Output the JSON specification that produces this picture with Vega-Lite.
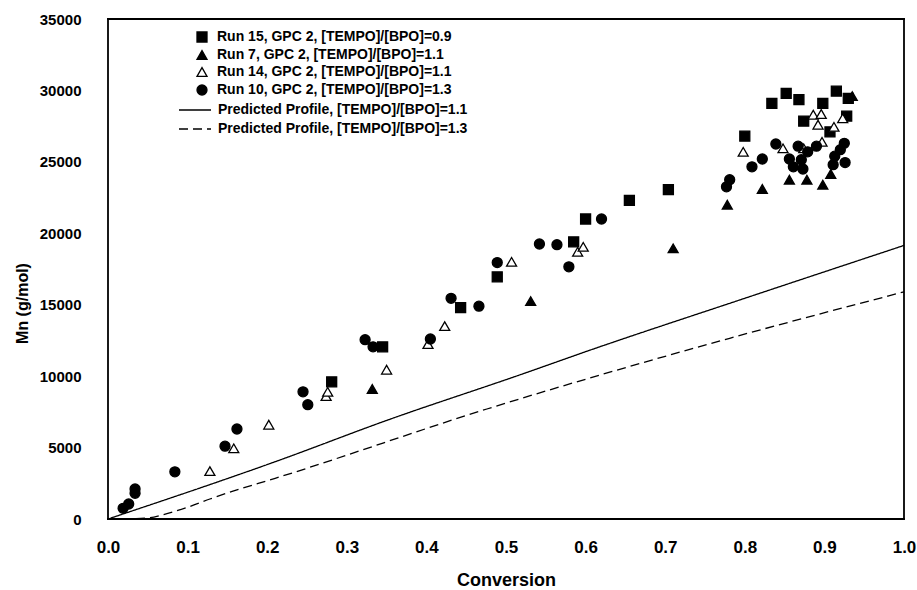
{
  "$schema": "https://vega.github.io/schema/vega-lite/v6.json",
  "width": 796,
  "height": 500,
  "autosize": {"type": "none"},
  "padding": {"left": 108, "top": 19, "right": 13, "bottom": 71},
  "background": "white",
  "config": {
    "font": "Liberation Sans",
    "view": {"stroke": null},
    "axis": {
      "grid": false,
      "ticks": false,
      "domain": false,
      "labelFlush": false,
      "labelFont": "Liberation Sans",
      "labelFontWeight": "bold",
      "labelColor": "black",
      "titleFont": "Liberation Sans",
      "titleFontWeight": "bold",
      "titleColor": "black"
    }
  },
  "datasets": {
    "points": [
      {"run": "Run 15, GPC 2, [TEMPO]/[BPO]=0.9", "conv": 0.281, "mn": 9600},
      {"run": "Run 15, GPC 2, [TEMPO]/[BPO]=0.9", "conv": 0.345, "mn": 12050},
      {"run": "Run 15, GPC 2, [TEMPO]/[BPO]=0.9", "conv": 0.443, "mn": 14800},
      {"run": "Run 15, GPC 2, [TEMPO]/[BPO]=0.9", "conv": 0.489, "mn": 16950},
      {"run": "Run 15, GPC 2, [TEMPO]/[BPO]=0.9", "conv": 0.585, "mn": 19400},
      {"run": "Run 15, GPC 2, [TEMPO]/[BPO]=0.9", "conv": 0.600, "mn": 21000},
      {"run": "Run 15, GPC 2, [TEMPO]/[BPO]=0.9", "conv": 0.655, "mn": 22300},
      {"run": "Run 15, GPC 2, [TEMPO]/[BPO]=0.9", "conv": 0.704, "mn": 23050},
      {"run": "Run 15, GPC 2, [TEMPO]/[BPO]=0.9", "conv": 0.800, "mn": 26800},
      {"run": "Run 15, GPC 2, [TEMPO]/[BPO]=0.9", "conv": 0.834, "mn": 29100},
      {"run": "Run 15, GPC 2, [TEMPO]/[BPO]=0.9", "conv": 0.852, "mn": 29800},
      {"run": "Run 15, GPC 2, [TEMPO]/[BPO]=0.9", "conv": 0.868, "mn": 29350},
      {"run": "Run 15, GPC 2, [TEMPO]/[BPO]=0.9", "conv": 0.874, "mn": 27850},
      {"run": "Run 15, GPC 2, [TEMPO]/[BPO]=0.9", "conv": 0.898, "mn": 29100},
      {"run": "Run 15, GPC 2, [TEMPO]/[BPO]=0.9", "conv": 0.907, "mn": 27100},
      {"run": "Run 15, GPC 2, [TEMPO]/[BPO]=0.9", "conv": 0.915, "mn": 29950},
      {"run": "Run 15, GPC 2, [TEMPO]/[BPO]=0.9", "conv": 0.928, "mn": 28200},
      {"run": "Run 15, GPC 2, [TEMPO]/[BPO]=0.9", "conv": 0.930, "mn": 29450},
      {"run": "Run 7, GPC 2, [TEMPO]/[BPO]=1.1", "conv": 0.332, "mn": 9100},
      {"run": "Run 7, GPC 2, [TEMPO]/[BPO]=1.1", "conv": 0.531, "mn": 15250},
      {"run": "Run 7, GPC 2, [TEMPO]/[BPO]=1.1", "conv": 0.710, "mn": 18950},
      {"run": "Run 7, GPC 2, [TEMPO]/[BPO]=1.1", "conv": 0.778, "mn": 22000},
      {"run": "Run 7, GPC 2, [TEMPO]/[BPO]=1.1", "conv": 0.822, "mn": 23100},
      {"run": "Run 7, GPC 2, [TEMPO]/[BPO]=1.1", "conv": 0.856, "mn": 23750},
      {"run": "Run 7, GPC 2, [TEMPO]/[BPO]=1.1", "conv": 0.878, "mn": 23750},
      {"run": "Run 7, GPC 2, [TEMPO]/[BPO]=1.1", "conv": 0.898, "mn": 23400},
      {"run": "Run 7, GPC 2, [TEMPO]/[BPO]=1.1", "conv": 0.908, "mn": 24150},
      {"run": "Run 7, GPC 2, [TEMPO]/[BPO]=1.1", "conv": 0.935, "mn": 29600},
      {"run": "Run 14, GPC 2, [TEMPO]/[BPO]=1.1", "conv": 0.128, "mn": 3350},
      {"run": "Run 14, GPC 2, [TEMPO]/[BPO]=1.1", "conv": 0.158, "mn": 4950},
      {"run": "Run 14, GPC 2, [TEMPO]/[BPO]=1.1", "conv": 0.202, "mn": 6600},
      {"run": "Run 14, GPC 2, [TEMPO]/[BPO]=1.1", "conv": 0.274, "mn": 8600},
      {"run": "Run 14, GPC 2, [TEMPO]/[BPO]=1.1", "conv": 0.276, "mn": 8900},
      {"run": "Run 14, GPC 2, [TEMPO]/[BPO]=1.1", "conv": 0.350, "mn": 10450},
      {"run": "Run 14, GPC 2, [TEMPO]/[BPO]=1.1", "conv": 0.402, "mn": 12250},
      {"run": "Run 14, GPC 2, [TEMPO]/[BPO]=1.1", "conv": 0.423, "mn": 13500},
      {"run": "Run 14, GPC 2, [TEMPO]/[BPO]=1.1", "conv": 0.507, "mn": 18000},
      {"run": "Run 14, GPC 2, [TEMPO]/[BPO]=1.1", "conv": 0.590, "mn": 18700},
      {"run": "Run 14, GPC 2, [TEMPO]/[BPO]=1.1", "conv": 0.597, "mn": 19050},
      {"run": "Run 14, GPC 2, [TEMPO]/[BPO]=1.1", "conv": 0.798, "mn": 25700},
      {"run": "Run 14, GPC 2, [TEMPO]/[BPO]=1.1", "conv": 0.848, "mn": 25950},
      {"run": "Run 14, GPC 2, [TEMPO]/[BPO]=1.1", "conv": 0.874, "mn": 25950},
      {"run": "Run 14, GPC 2, [TEMPO]/[BPO]=1.1", "conv": 0.886, "mn": 28300},
      {"run": "Run 14, GPC 2, [TEMPO]/[BPO]=1.1", "conv": 0.892, "mn": 27600},
      {"run": "Run 14, GPC 2, [TEMPO]/[BPO]=1.1", "conv": 0.896, "mn": 28350},
      {"run": "Run 14, GPC 2, [TEMPO]/[BPO]=1.1", "conv": 0.897, "mn": 26400},
      {"run": "Run 14, GPC 2, [TEMPO]/[BPO]=1.1", "conv": 0.912, "mn": 27450},
      {"run": "Run 14, GPC 2, [TEMPO]/[BPO]=1.1", "conv": 0.923, "mn": 28050},
      {"run": "Run 10, GPC 2, [TEMPO]/[BPO]=1.3", "conv": 0.019, "mn": 750},
      {"run": "Run 10, GPC 2, [TEMPO]/[BPO]=1.3", "conv": 0.026, "mn": 1050},
      {"run": "Run 10, GPC 2, [TEMPO]/[BPO]=1.3", "conv": 0.034, "mn": 1800},
      {"run": "Run 10, GPC 2, [TEMPO]/[BPO]=1.3", "conv": 0.034, "mn": 2100},
      {"run": "Run 10, GPC 2, [TEMPO]/[BPO]=1.3", "conv": 0.084, "mn": 3300},
      {"run": "Run 10, GPC 2, [TEMPO]/[BPO]=1.3", "conv": 0.147, "mn": 5100},
      {"run": "Run 10, GPC 2, [TEMPO]/[BPO]=1.3", "conv": 0.162, "mn": 6300},
      {"run": "Run 10, GPC 2, [TEMPO]/[BPO]=1.3", "conv": 0.245, "mn": 8900},
      {"run": "Run 10, GPC 2, [TEMPO]/[BPO]=1.3", "conv": 0.251, "mn": 8000},
      {"run": "Run 10, GPC 2, [TEMPO]/[BPO]=1.3", "conv": 0.323, "mn": 12550},
      {"run": "Run 10, GPC 2, [TEMPO]/[BPO]=1.3", "conv": 0.333, "mn": 12050},
      {"run": "Run 10, GPC 2, [TEMPO]/[BPO]=1.3", "conv": 0.405, "mn": 12600},
      {"run": "Run 10, GPC 2, [TEMPO]/[BPO]=1.3", "conv": 0.431, "mn": 15450},
      {"run": "Run 10, GPC 2, [TEMPO]/[BPO]=1.3", "conv": 0.466, "mn": 14900},
      {"run": "Run 10, GPC 2, [TEMPO]/[BPO]=1.3", "conv": 0.489, "mn": 17950},
      {"run": "Run 10, GPC 2, [TEMPO]/[BPO]=1.3", "conv": 0.542, "mn": 19250},
      {"run": "Run 10, GPC 2, [TEMPO]/[BPO]=1.3", "conv": 0.564, "mn": 19200},
      {"run": "Run 10, GPC 2, [TEMPO]/[BPO]=1.3", "conv": 0.579, "mn": 17650},
      {"run": "Run 10, GPC 2, [TEMPO]/[BPO]=1.3", "conv": 0.620, "mn": 21000},
      {"run": "Run 10, GPC 2, [TEMPO]/[BPO]=1.3", "conv": 0.777, "mn": 23250},
      {"run": "Run 10, GPC 2, [TEMPO]/[BPO]=1.3", "conv": 0.781, "mn": 23750},
      {"run": "Run 10, GPC 2, [TEMPO]/[BPO]=1.3", "conv": 0.809, "mn": 24650},
      {"run": "Run 10, GPC 2, [TEMPO]/[BPO]=1.3", "conv": 0.822, "mn": 25200},
      {"run": "Run 10, GPC 2, [TEMPO]/[BPO]=1.3", "conv": 0.839, "mn": 26250},
      {"run": "Run 10, GPC 2, [TEMPO]/[BPO]=1.3", "conv": 0.856, "mn": 25200},
      {"run": "Run 10, GPC 2, [TEMPO]/[BPO]=1.3", "conv": 0.861, "mn": 24650},
      {"run": "Run 10, GPC 2, [TEMPO]/[BPO]=1.3", "conv": 0.867, "mn": 26100},
      {"run": "Run 10, GPC 2, [TEMPO]/[BPO]=1.3", "conv": 0.871, "mn": 25150},
      {"run": "Run 10, GPC 2, [TEMPO]/[BPO]=1.3", "conv": 0.873, "mn": 24500},
      {"run": "Run 10, GPC 2, [TEMPO]/[BPO]=1.3", "conv": 0.879, "mn": 25700},
      {"run": "Run 10, GPC 2, [TEMPO]/[BPO]=1.3", "conv": 0.890, "mn": 26100},
      {"run": "Run 10, GPC 2, [TEMPO]/[BPO]=1.3", "conv": 0.911, "mn": 24800},
      {"run": "Run 10, GPC 2, [TEMPO]/[BPO]=1.3", "conv": 0.913, "mn": 25400},
      {"run": "Run 10, GPC 2, [TEMPO]/[BPO]=1.3", "conv": 0.920, "mn": 25850},
      {"run": "Run 10, GPC 2, [TEMPO]/[BPO]=1.3", "conv": 0.925, "mn": 26300},
      {"run": "Run 10, GPC 2, [TEMPO]/[BPO]=1.3", "conv": 0.926, "mn": 24950}
    ],
    "solid": [
      {"profile": "Predicted Profile, [TEMPO]/[BPO]=1.1", "conv": 0.0, "mn": 0},
      {"profile": "Predicted Profile, [TEMPO]/[BPO]=1.1", "conv": 0.216, "mn": 4130},
      {"profile": "Predicted Profile, [TEMPO]/[BPO]=1.1", "conv": 0.35, "mn": 6900},
      {"profile": "Predicted Profile, [TEMPO]/[BPO]=1.1", "conv": 0.518, "mn": 10100},
      {"profile": "Predicted Profile, [TEMPO]/[BPO]=1.1", "conv": 0.602, "mn": 11750},
      {"profile": "Predicted Profile, [TEMPO]/[BPO]=1.1", "conv": 0.8, "mn": 15450},
      {"profile": "Predicted Profile, [TEMPO]/[BPO]=1.1", "conv": 1.0, "mn": 19150}
    ],
    "dashed": [
      {"profile": "Predicted Profile,  [TEMPO]/[BPO]=1.3", "conv": 0.0, "mn": 0},
      {"profile": "Predicted Profile,  [TEMPO]/[BPO]=1.3", "conv": 0.03, "mn": 20},
      {"profile": "Predicted Profile,  [TEMPO]/[BPO]=1.3", "conv": 0.053, "mn": 100},
      {"profile": "Predicted Profile,  [TEMPO]/[BPO]=1.3", "conv": 0.069, "mn": 300},
      {"profile": "Predicted Profile,  [TEMPO]/[BPO]=1.3", "conv": 0.099, "mn": 800},
      {"profile": "Predicted Profile,  [TEMPO]/[BPO]=1.3", "conv": 0.128, "mn": 1400},
      {"profile": "Predicted Profile,  [TEMPO]/[BPO]=1.3", "conv": 0.157, "mn": 1950},
      {"profile": "Predicted Profile,  [TEMPO]/[BPO]=1.3", "conv": 0.21, "mn": 2850},
      {"profile": "Predicted Profile,  [TEMPO]/[BPO]=1.3", "conv": 0.476, "mn": 7700},
      {"profile": "Predicted Profile,  [TEMPO]/[BPO]=1.3", "conv": 0.781, "mn": 12650},
      {"profile": "Predicted Profile,  [TEMPO]/[BPO]=1.3", "conv": 1.0, "mn": 15900}
    ],
    "frame": [
      {"edge": "top", "conv": 0, "mn": 35000},
      {"edge": "top", "conv": 1, "mn": 35000},
      {"edge": "bottom", "conv": 0, "mn": 0},
      {"edge": "bottom", "conv": 1, "mn": 0},
      {"edge": "left", "conv": 0, "mn": 0},
      {"edge": "left", "conv": 0, "mn": 35000},
      {"edge": "right", "conv": 1, "mn": 0},
      {"edge": "right", "conv": 1, "mn": 35000}
    ]
  },
  "layer": [
    {
      "data": {"name": "frame"},
      "mark": {"type": "line", "color": "black", "strokeWidth": 1.8, "clip": false, "strokeCap": "square"},
      "encoding": {
        "detail": {"field": "edge", "type": "nominal"},
        "x": {
          "field": "conv", "type": "quantitative",
          "scale": {"domain": [0, 1], "nice": false},
          "axis": {
            "values": [0, 0.1, 0.2, 0.3, 0.4, 0.5, 0.6, 0.7, 0.8, 0.9, 1.0],
            "format": ".1f",
            "labelFontSize": 17,
            "labelPadding": 20,
            "title": "Conversion",
            "titleFontSize": 18,
            "titleBaseline": "middle",
            "titleY": 61
          }
        },
        "y": {
          "field": "mn", "type": "quantitative",
          "scale": {"domain": [0, 35000], "nice": false},
          "axis": {
            "values": [0, 5000, 10000, 15000, 20000, 25000, 30000, 35000],
            "format": "d",
            "labelFontSize": 15,
            "labelPadding": 27,
            "title": "Mn (g/mol)",
            "titleFontSize": 16,
            "titleAngle": -90,
            "titleBaseline": "middle",
            "titleAlign": "center",
            "titleX": -86,
            "titleY": 284
          }
        }
      }
    },
    {
      "data": {"name": "solid"},
      "mark": {"type": "line", "color": "black", "strokeWidth": 1.3, "interpolate": "monotone"},
      "encoding": {
        "x": {"field": "conv", "type": "quantitative"},
        "y": {"field": "mn", "type": "quantitative"},
        "strokeDash": {
          "field": "profile", "type": "nominal",
          "scale": {"domain": ["Predicted Profile, [TEMPO]/[BPO]=1.1"], "range": [[1, 0]]},
          "legend": {
            "orient": "none",
            "legendX": 70,
            "legendY": 74,
            "title": null,
            "padding": 0,
            "symbolType": "stroke",
            "symbolSize": 1024,
            "symbolStrokeColor": "black",
            "symbolStrokeWidth": 1.3,
            "labelFont": "Liberation Sans",
            "labelFontSize": 14,
            "labelFontWeight": "bold",
            "labelColor": "black",
            "labelOffset": 6,
            "labelLimit": 500
          }
        }
      }
    },
    {
      "data": {"name": "dashed"},
      "mark": {"type": "line", "color": "black", "strokeWidth": 1.3, "interpolate": "monotone"},
      "encoding": {
        "x": {"field": "conv", "type": "quantitative"},
        "y": {"field": "mn", "type": "quantitative"},
        "strokeDash": {
          "field": "profile", "type": "nominal",
          "scale": {"domain": ["Predicted Profile,  [TEMPO]/[BPO]=1.3"], "range": [[9, 5]]},
          "legend": {
            "orient": "none",
            "legendX": 70,
            "legendY": 93,
            "title": null,
            "padding": 0,
            "symbolType": "stroke",
            "symbolSize": 1024,
            "symbolStrokeColor": "black",
            "symbolStrokeWidth": 1.3,
            "labelFont": "Liberation Sans",
            "labelFontSize": 14,
            "labelFontWeight": "bold",
            "labelColor": "black",
            "labelOffset": 6,
            "labelLimit": 500
          }
        }
      }
    },
    {
      "data": {"name": "points"},
      "mark": {"type": "point", "filled": true, "strokeWidth": 1.3, "size": 100, "opacity": 1},
      "encoding": {
        "x": {"field": "conv", "type": "quantitative"},
        "y": {"field": "mn", "type": "quantitative"},
        "shape": {
          "field": "run", "type": "nominal",
          "scale": {
            "domain": ["Run 15, GPC 2, [TEMPO]/[BPO]=0.9", "Run 7, GPC 2, [TEMPO]/[BPO]=1.1", "Run 14, GPC 2, [TEMPO]/[BPO]=1.1", "Run 10, GPC 2, [TEMPO]/[BPO]=1.3"],
            "range": ["square", "triangle-up", "triangle-up", "circle"]
          },
          "legend": {
            "orient": "none",
            "legendX": 87,
            "legendY": 11,
            "title": null,
            "padding": 0,
            "symbolSize": 100,
            "symbolStrokeWidth": 1.3,
            "labelFont": "Liberation Sans",
            "labelFontSize": 14,
            "labelFontWeight": "bold",
            "labelColor": "black",
            "labelOffset": 8,
            "labelLimit": 500,
            "rowPadding": 3
          }
        },
        "fill": {
          "field": "run", "type": "nominal",
          "scale": {
            "domain": ["Run 15, GPC 2, [TEMPO]/[BPO]=0.9", "Run 7, GPC 2, [TEMPO]/[BPO]=1.1", "Run 14, GPC 2, [TEMPO]/[BPO]=1.1", "Run 10, GPC 2, [TEMPO]/[BPO]=1.3"],
            "range": ["black", "black", "white", "black"]
          },
          "legend": {
            "orient": "none",
            "legendX": 87,
            "legendY": 11,
            "title": null,
            "padding": 0,
            "symbolSize": 100,
            "symbolStrokeWidth": 1.3,
            "labelFont": "Liberation Sans",
            "labelFontSize": 14,
            "labelFontWeight": "bold",
            "labelColor": "black",
            "labelOffset": 8,
            "labelLimit": 500,
            "rowPadding": 3
          }
        },
        "stroke": {
          "field": "run", "type": "nominal",
          "scale": {
            "domain": ["Run 15, GPC 2, [TEMPO]/[BPO]=0.9", "Run 7, GPC 2, [TEMPO]/[BPO]=1.1", "Run 14, GPC 2, [TEMPO]/[BPO]=1.1", "Run 10, GPC 2, [TEMPO]/[BPO]=1.3"],
            "range": ["black", "black", "black", "black"]
          },
          "legend": {
            "orient": "none",
            "legendX": 87,
            "legendY": 11,
            "title": null,
            "padding": 0,
            "symbolSize": 100,
            "symbolStrokeWidth": 1.3,
            "labelFont": "Liberation Sans",
            "labelFontSize": 14,
            "labelFontWeight": "bold",
            "labelColor": "black",
            "labelOffset": 8,
            "labelLimit": 500,
            "rowPadding": 3
          }
        }
      }
    }
  ],
  "resolve": {"scale": {"strokeDash": "independent"}, "legend": {"strokeDash": "independent"}}
}
